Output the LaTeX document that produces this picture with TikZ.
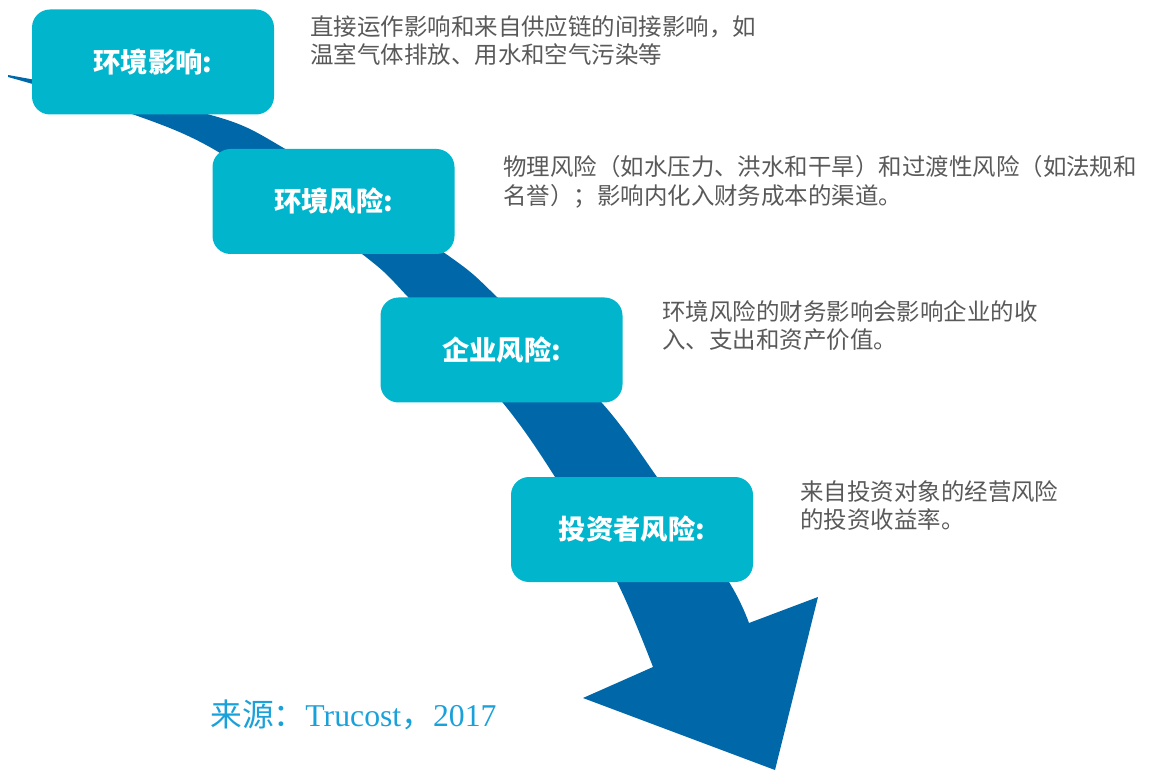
\documentclass[tikz,border=0pt]{standalone}
\usepackage{fontspec}
\setmainfont{Liberation Serif}
\newfontfamily\cjk{Noto Sans CJK SC}
\usepackage{tikz}
\definecolor{boxcyan}{HTML}{00B5CC}
\definecolor{flowblue}{HTML}{0068A9}
\definecolor{txtgray}{HTML}{595959}
\definecolor{srccyan}{HTML}{1BA1DA}

\begin{document}
\begin{tikzpicture}[x=0.75pt,y=-0.75pt,box/.style={fill=boxcyan,rounded corners=13.5pt,minimum width=181.5pt,minimum height=78.75pt,inner sep=0pt,text=white,font=\cjk\bfseries\fontsize{20.5pt}{24pt}\selectfont},desc/.style={anchor=north west,align=left,inner sep=0pt,text=txtgray,font=\cjk\fontsize{17.6pt}{21.5pt}\selectfont}]
\useasboundingbox (0,0) rectangle (1153,773);
\fill[flowblue] plot[smooth] coordinates {(8,77) (132,114) (220,153) (362,254) (408,297) (503,403) (555,477) (617,582) (653,667)} -- (583,698) -- (775,770) -- (818,597) -- plot[smooth] coordinates {(749,623) (729,582) (657,477) (602,403) (497,297) (446,254) (287,150) (207,114) (8,75)} -- cycle;
\node[box] (b1) at (153,62) {环境影响:};
\node[box] (b2) at (333.5,201.5) {环境风险:};
\node[box] (b3) at (501.5,350) {企业风险:};
\node[box] (b4) at (632,529.5) {投资者风险:};
\node[desc] (t1) at (310,15) {直接运作影响和来自供应链的间接影响，如\\温室气体排放、用水和空气污染等};
\node[desc] (t2) at (503,155) {物理风险（如水压力、洪水和干旱）和过渡性风险（如法规和\\名誉）；影响内化入财务成本的渠道。};
\node[desc] (t3) at (662,300) {环境风险的财务影响会影响企业的收\\入、支出和资产价值。};
\node[desc] (t4) at (800,480) {来自投资对象的经营风险\\的投资收益率。};
\node[anchor=west,inner sep=0pt,text=srccyan,font=\fontsize{23.8pt}{28pt}\selectfont] (src) at (210,715) {{\cjk 来源：}Trucost{\cjk ，}2017};
\end{tikzpicture}
\end{document}
